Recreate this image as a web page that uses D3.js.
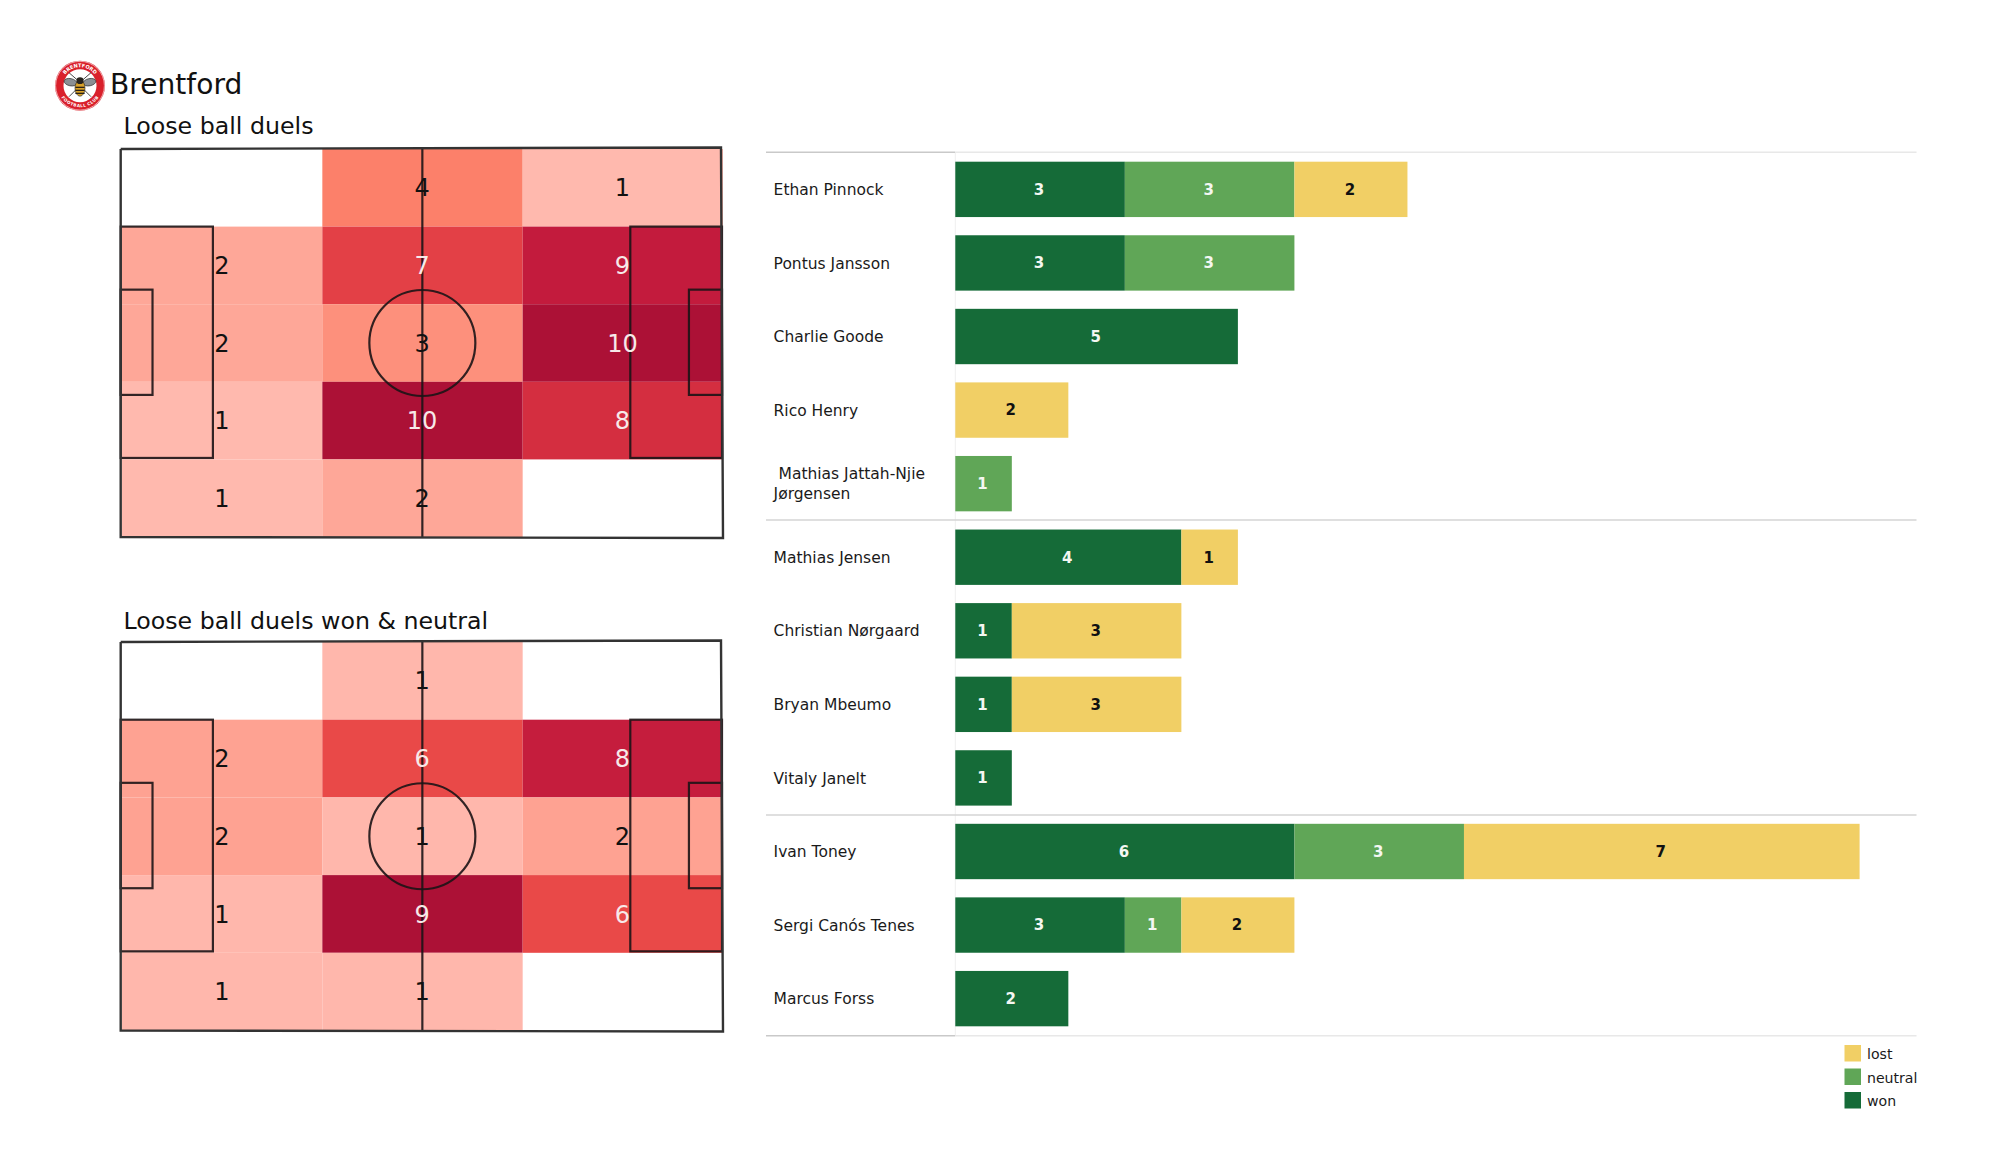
<!DOCTYPE html>
<html><head><meta charset="utf-8">
<script src="https://cdn.jsdelivr.net/npm/d3@7/dist/d3.min.js"></script>
<style>html,body{margin:0;padding:0;background:#fff}svg{display:block}text{font-family:"DejaVu Sans",sans-serif}</style>
</head><body><div id="c"></div>
<script>
const teamName = "Brentford";
const pitchTitles = ["Loose ball duels", "Loose ball duels won & neutral"];
const duelsAll = [[0,4,1],[2,7,9],[2,3,10],[1,10,8],[1,2,0]];
const duelsWon = [[0,1,0],[2,6,8],[2,1,2],[1,9,6],[1,1,0]];
const players = ["Ethan Pinnock","Pontus Jansson","Charlie Goode","Rico Henry"," Mathias Jattah-Njie\nJørgensen","Mathias Jensen","Christian Nørgaard","Bryan Mbeumo","Vitaly Janelt","Ivan Toney","Sergi Canós Tenes","Marcus Forss"];
const won =     [3,3,5,0,0,4,1,1,1,6,3,2];
const neutral = [3,3,0,0,1,0,0,0,0,3,1,0];
const lost =    [2,0,0,2,0,1,3,3,0,7,2,0];
const legendKeys = ["lost","neutral","won"];
const legendColors = {won:"#156b38",neutral:"#60a657",lost:"#f1cf65"};
const heatStops = [0.1,0.2,0.3,0.4,0.67,0.7,0.8,0.9,1];
const heatColors = ["#ffb9ae","#fea798","#fd907c","#fc806a","#e94848","#e34046","#d42e40","#c31b3d","#ac1136"];

const svg = d3.select("#c").append("svg").attr("width",2000).attr("height",1175);
const heat = d3.scaleLinear().domain(heatStops).range(heatColors);
const ink = "#1c1416";

function pitch(top, bottom, data, title, titleY){
  const x = d3.scaleLinear().domain([0,120]).range([120.7,722]);
  const y = d3.scaleLinear().domain([0,80]).range([top,bottom]);
  const cx = d3.scaleBand().domain([0,1,2]).range([122,723]);
  const cy = d3.scaleBand().domain([0,1,2,3,4]).range([top,bottom]);
  const g = svg.append("g");
  const max = d3.max(data.flat());
  g.append("text").attr("x",123.5).attr("y",titleY).attr("font-size",23.7).attr("fill","#111").text(title);
  data.forEach((row,r)=>row.forEach((v,c)=>{
    if(v>0) g.append("rect").attr("x",cx(c)).attr("y",cy(r)).attr("width",cx.bandwidth()).attr("height",cy.bandwidth()).attr("fill",heat(v/max));
  }));
  const sw = 2.2;
  const line = (x1,y1,x2,y2)=>g.append("line").attr("x1",x(x1)).attr("y1",y(y1)).attr("x2",x(x2)).attr("y2",y(y2)).attr("stroke",ink).attr("stroke-width",sw).attr("stroke-opacity",.9);
  const box = (x1,y1,x2,y2)=>g.append("rect").attr("x",x(x1)).attr("y",y(y1)).attr("width",x(x2)-x(x1)).attr("height",y(y2)-y(y1)).attr("fill","none").attr("stroke",ink).attr("stroke-width",sw).attr("stroke-opacity",.9);
  box(0,16,18.4,63.7); box(0,29,6.35,50.7); box(101.7,16,120,63.7); box(113.4,29,120,50.7);
  line(60.2,0,60.2,80);
  g.append("circle").attr("cx",x(60.2)).attr("cy",y(40)).attr("r",53).attr("fill","none").attr("stroke",ink).attr("stroke-width",sw).attr("stroke-opacity",.9);
  g.append("path").attr("d",d3.line()([[x(0),y(0)],[x(120)-1,y(0)-1.5],[x(120)+1,y(80)+1],[x(0),y(80)],[x(0),y(0)]])).attr("fill","none").attr("stroke","#333").attr("stroke-width",2.4);
  data.forEach((row,r)=>row.forEach((v,c)=>{
    if(v>0) g.append("text").attr("x",cx(c)+cx.bandwidth()/2-0.4).attr("y",cy(r)+cy.bandwidth()/2).attr("dy","0.36em").attr("text-anchor","middle").attr("font-size",24).attr("fill",v/max>=0.6?"#f7e9e9":"#111").text(v);
  }));
}
pitch(149,537,duelsAll,pitchTitles[0],134);
pitch(642,1030.5,duelsWon,pitchTitles[1],628.5);

// crest
const crest = svg.append("g").attr("transform","translate(80,85.7)");
crest.append("circle").attr("r",25).attr("fill","#d9202b");
crest.append("circle").attr("r",16.5).attr("fill","#fff");
crest.append("circle").attr("r",24.4).attr("fill","none").attr("stroke","#fff").attr("stroke-width",.6);
const defs = svg.append("defs");
defs.append("path").attr("id","arcTop").attr("d",d3.arc()({innerRadius:18.5,outerRadius:18.5,startAngle:-Math.PI*0.62,endAngle:Math.PI*0.62}).split("A").slice(0,2).join("A"));
defs.append("path").attr("id","arcBot").attr("d","M-18.5,6 A20,20 0 0 0 18.5,6");
crest.append("text").attr("font-size",5).attr("font-weight","bold").attr("fill","#fff").append("textPath").attr("href","#arcTop").attr("startOffset","50%").attr("text-anchor","middle").text("BRENTFORD");
crest.append("text").attr("font-size",4.2).attr("font-weight","bold").attr("fill","#fff").attr("dy",3).append("textPath").attr("href","#arcBot").attr("startOffset","50%").attr("text-anchor","middle").text("FOOTBALL CLUB");
[-1,1].forEach(s=>{
  crest.append("ellipse").attr("cx",s*9.5).attr("cy",-3.5).attr("rx",6.5).attr("ry",3.6).attr("transform",`rotate(${s*-12} ${s*9.5} -3.5)`).attr("fill","#8b8f94").attr("stroke","#333").attr("stroke-width",.7);
  crest.append("line").attr("x1",s*3).attr("y1",3).attr("x2",s*11).attr("y2",11).attr("stroke","#333").attr("stroke-width",.9);
  crest.append("line").attr("x1",s*3).attr("y1",-6).attr("x2",s*11).attr("y2",-13).attr("stroke","#333").attr("stroke-width",.9);
});
crest.append("ellipse").attr("cy",2.5).attr("rx",5).attr("ry",8).attr("fill","#d9a22a").attr("stroke","#222").attr("stroke-width",.6);
crest.append("ellipse").attr("cy",-5).attr("rx",3.6).attr("ry",3.4).attr("fill","#26221c");
[1,4,7].forEach(d=>crest.append("rect").attr("x",-4.6).attr("y",d).attr("width",9.2).attr("height",1.3).attr("fill","#2a2015"));
svg.append("text").attr("x",110).attr("y",93.5).attr("font-size",28.1).attr("fill","#111").text(teamName);

// bars
const xb = d3.scaleLinear().domain([0,16]).range([955.3,1859.6]);
const yb = d3.scaleBand().domain(d3.range(players.length)).range([152.5,1035.5]).paddingInner(0.2475).paddingOuter(0.125);
const barG = svg.append("g");
barG.append("line").attr("x1",955.3).attr("x2",955.3).attr("y1",152).attr("y2",1036).attr("stroke","#efefef").attr("stroke-width",1);
[152.3,520,815,1035.7].forEach((ly,i)=>{
  barG.append("line").attr("x1",766).attr("x2",955).attr("y1",ly).attr("y2",ly).attr("stroke",(i==0||i==3)?"#c9c9c9":"#d4d4d4").attr("stroke-width",1.4);
  barG.append("line").attr("x1",955).attr("x2",1916.5).attr("y1",ly).attr("y2",ly).attr("stroke",(i==0||i==3)?"#e8e8e8":"#d4d4d4").attr("stroke-width",1.4);
});
const stacked = players.map((p,i)=>{
  let acc=0; return [["won",won[i]],["neutral",neutral[i]],["lost",lost[i]]].filter(d=>d[1]>0).map(([k,v])=>{const o={k,v,x0:acc,x1:acc+v,i};acc+=v;return o;});
}).flat();
barG.selectAll("rect.b").data(stacked).join("rect").attr("class","b").attr("x",d=>xb(d.x0)).attr("y",d=>yb(d.i)).attr("width",d=>xb(d.x1)-xb(d.x0)).attr("height",yb.bandwidth()).attr("fill",d=>legendColors[d.k]);
barG.selectAll("text.v").data(stacked).join("text").attr("class","v").attr("x",d=>(xb(d.x0)+xb(d.x1))/2-1).attr("y",d=>yb(d.i)+yb.bandwidth()/2).attr("dy","0.36em").attr("text-anchor","middle").attr("font-size",15).attr("font-weight","bold").attr("fill",d=>d.k=="lost"?"#111":"#f4f7f2").text(d=>d.v);
players.forEach((p,i)=>{
  const parts = p.split("\n");
  const mid = yb(i)+yb.bandwidth()/2;
  parts.forEach((t,j)=>{
    barG.append("text").attr("x",773.6).attr("y",mid+(j-(parts.length-1)/2)*19.6).attr("dy","0.36em").attr("font-size",15.5).attr("fill","#1a1a1a").style("white-space","pre").text(t);
  });
});
// legend
const ly = d3.scaleBand().domain(legendKeys).range([1045,1115.5]);
legendKeys.forEach(k=>{
  svg.append("rect").attr("x",1844.5).attr("y",ly(k)).attr("width",16.5).attr("height",16.5).attr("fill",legendColors[k]);
  svg.append("text").attr("x",1867).attr("y",ly(k)+9).attr("dy","0.36em").attr("font-size",14.1).attr("fill","#1a1a1a").text(k);
});
</script></body></html>
